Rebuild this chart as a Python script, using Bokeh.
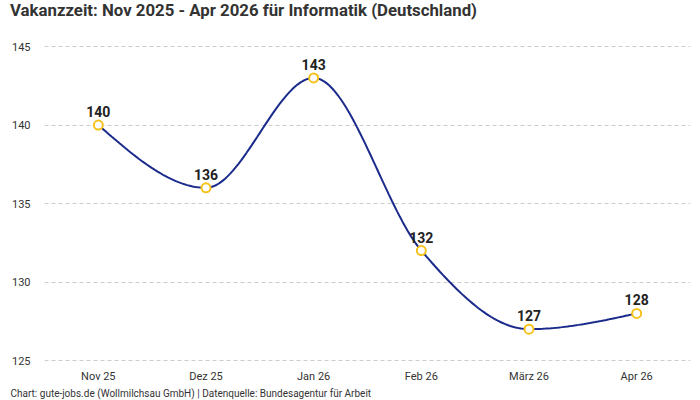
import numpy as np
from bokeh.plotting import figure
from bokeh.layouts import column
from bokeh.models import ColumnDataSource, Title, FixedTicker, Range1d, Div
from bokeh.core.properties import value
from bokeh.embed import file_html
from bokeh.resources import INLINE

# Data
months = ["Nov 25", "Dez 25", "Jan 26", "Feb 26", "März 26", "Apr 26"]
vakanzzeit = [140, 136, 143, 132, 127, 128]
y_ticks = [125, 130, 135, 140, 145]

FONT = "Roboto"
LINE_COLOR = "#1b2b8c"
MARKER_COLOR = "#f6c21c"
TEXT_COLOR = "#333333"


def monotone_curve(xs, ys, steps=40):
    """Monotone cubic (Fritsch-Carlson, as d3 curveMonotoneX) through the points."""
    xs = np.asarray(xs, float)
    ys = np.asarray(ys, float)
    n = len(xs)
    h = np.diff(xs)
    d = np.diff(ys) / h
    m = np.zeros(n)
    for i in range(1, n - 1):
        if d[i - 1] * d[i] > 0:
            p = (d[i - 1] * h[i] + d[i] * h[i - 1]) / (h[i - 1] + h[i])
            m[i] = (np.sign(d[i - 1]) + np.sign(d[i])) * min(abs(d[i - 1]), abs(d[i]), 0.5 * abs(p))
    m[0] = (3 * d[0] - m[1]) / 2
    m[-1] = (3 * d[-1] - m[-2]) / 2
    cx, cy = [], []
    for i in range(n - 1):
        t = np.linspace(0, 1, steps, endpoint=(i == n - 2))
        h00 = 2 * t**3 - 3 * t**2 + 1
        h10 = t**3 - 2 * t**2 + t
        h01 = -2 * t**3 + 3 * t**2
        h11 = t**3 - t**2
        cx.extend(xs[i] + t * h[i])
        cy.extend(h00 * ys[i] + h10 * h[i] * m[i] + h01 * ys[i + 1] + h11 * h[i] * m[i + 1])
    return cx, cy


x_pos = list(range(len(months)))
curve_x, curve_y = monotone_curve(x_pos, vakanzzeit)

src = ColumnDataSource(dict(x=x_pos, y=vakanzzeit, label=[str(v) for v in vakanzzeit]))

# Heading above the chart
heading = Div(
    text="Vakanzzeit: Nov 2025 - Apr 2026 für Informatik (Deutschland)",
    width=700, height=38, margin=0,
    styles={"font-family": FONT, "font-size": "16.8px", "font-weight": "bold",
            "color": TEXT_COLOR, "line-height": "20px", "padding-left": "10px",
            "background-color": "white", "white-space": "nowrap"},
)

p = figure(
    width=700, height=362,
    x_range=Range1d(-0.5, len(months) - 0.5),
    y_range=Range1d(124.62, 145.51),
    output_backend="svg", toolbar_location=None,
    min_border_left=44, min_border_right=10,
    min_border_top=0, min_border_bottom=34,
    margin=0,
)
p.outline_line_color = None
p.background_fill_color = "white"
p.border_fill_color = "white"

# Source line
footer = Title(text="Chart: gute-jobs.de (Wollmilchsau GmbH) | Datenquelle: Bundesagentur für Arbeit",
               align="left", offset=-34, standoff=0, vertical_align="bottom",
               text_font=FONT, text_font_size="10px", text_font_style="normal",
               text_color=TEXT_COLOR)
p.add_layout(footer, "below")

# Axes
p.xaxis.ticker = FixedTicker(ticks=x_pos)
p.xaxis.major_label_overrides = {i: m for i, m in enumerate(months)}
p.yaxis.ticker = FixedTicker(ticks=y_ticks)
for ax in (p.xaxis, p.yaxis):
    ax.axis_line_color = None
    ax.major_tick_line_color = None
    ax.minor_tick_line_color = None
    ax.major_tick_out = 0
    ax.major_tick_in = 0
    ax.major_label_text_font = FONT
    ax.major_label_text_font_size = "11px"
    ax.major_label_text_color = TEXT_COLOR
p.xaxis.major_label_standoff = 3
p.yaxis.major_label_standoff = 14

p.xgrid.grid_line_color = None
p.ygrid.grid_line_color = "#cccccc"
p.ygrid.grid_line_dash = "4 3"
p.ygrid.grid_line_width = 1

# Smoothed line, markers and value labels
p.line(curve_x, curve_y, line_color=LINE_COLOR, line_width=2)
p.scatter("x", "y", source=src, size=9, fill_color="white",
          line_color=MARKER_COLOR, line_width=2)
p.text("x", "y", text="label", source=src, text_align="center",
       text_baseline="bottom", y_offset=-8, text_font=value(FONT),
       text_font_size="14px", text_font_style="bold", text_color="#222222")

layout = column(heading, p, spacing=0, margin=0)
open("out.html", "w").write(file_html(layout, INLINE))
